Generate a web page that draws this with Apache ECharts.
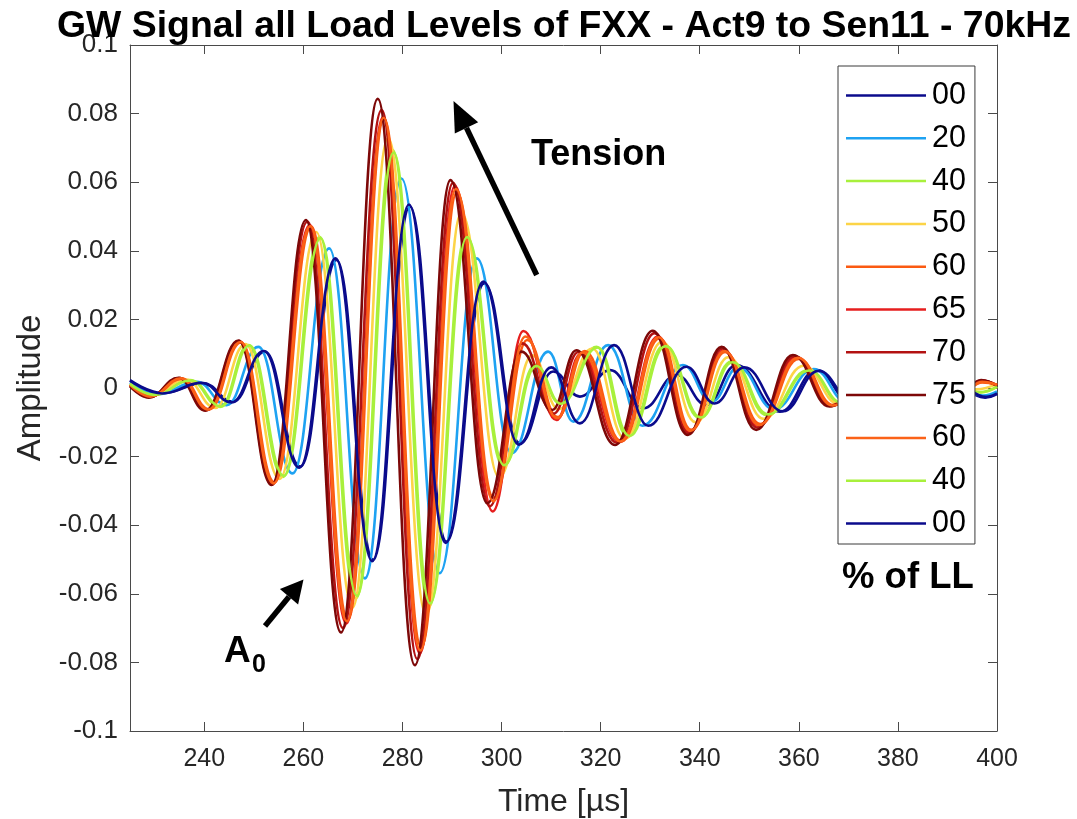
<!DOCTYPE html>
<html>
<head>
<meta charset="utf-8">
<title>GW Signal all Load Levels</title>
<script src="https://cdn.jsdelivr.net/npm/echarts@6/dist/echarts.min.js"></script>
<style>
  html, body { margin: 0; padding: 0; background: #fff; }
  #chart { width: 1077px; height: 819px; }
</style>
</head>
<body>
<div id="chart"></div>
<script>
// Axis ticks
const xTicks = [240, 260, 280, 300, 320, 340, 360, 380, 400];
const yTicks = [-0.1, -0.08, -0.06, -0.04, -0.02, 0, 0.02, 0.04, 0.06, 0.08, 0.1];

// Load levels (% of LL), loading then unloading
const loadLevels = ['00', '20', '40', '50', '60', '65', '70', '75', '60', '40', '00'];
const levelColors = ['#0b0b8c', '#1ea2f2', '#a8f03c', '#fcd447', '#fb5a12', '#e61e1e',
                     '#b31212', '#7d0808', '#fb6218', '#a8f03c', '#0b0b8c'];

// Signals: [time in µs, amplitude] at the turning points of each waveform
const ll00a = [[225,0.0023],[231.7,-0.0015],[239.8,0.0014],[245.8,-0.0040],[252.2,0.0106],[259.4,-0.0229],
  [266.7,0.0373],[274.1,-0.0501],[281.5,0.0529],[288.9,-0.0448],[296.5,0.0305],[303.7,-0.0161],
  [310.4,0.0048],[315.8,-0.0025],[321.9,0.0052],[328.6,-0.0059],[335.3,0.0038],[341.4,-0.0050],
  [347.4,0.0067],[356.2,-0.0069],[363.6,0.0052],[370.4,-0.0040],[377.5,0.0030],[384.6,-0.0025],
  [391.2,0.0015],[397.6,-0.0028],[400,-0.0018]];
const ll20 = [[225,0.0016],[230.5,-0.0018],[238.5,0.0018],[244.5,-0.0050],[250.9,0.0120],[257.8,-0.0249],
  [265.2,0.0407],[272.4,-0.0555],[279.8,0.0611],[287.5,-0.0540],[295.0,0.0378],[302.0,-0.0190],
  [309.4,0.0106],[314.5,-0.0098],[321.5,0.0125],[328.4,-0.0110],[336.6,0.0067],[342.4,-0.0040],
  [347.8,0.0060],[355.0,-0.0062],[363.0,0.0055],[369.8,-0.0042],[376.9,0.0032],[384.0,-0.0026],
  [390.6,0.0016],[397.2,-0.0022],[400,-0.0010]];
const ll40a = [[225,0.0011],[229.8,-0.0020],[237.1,0.0023],[243.2,-0.0055],[248.9,0.0125],[255.9,-0.0259],
  [263.3,0.0441],[270.6,-0.0613],[278.0,0.0694],[285.4,-0.0636],[292.8,0.0446],[300.3,-0.0229],
  [306.8,0.0068],[311.8,-0.0045],[319.2,0.0120],[325.5,-0.0142],[332.9,0.0125],[340.0,-0.0088],
  [346.4,0.0077],[353.5,-0.0079],[361.9,0.0052],[368.6,-0.0045],[375.8,0.0034],[383.0,-0.0028],
  [389.8,0.0018],[396.6,-0.0012],[400,0.0004]];
const ll50 = [[225,0.0012],[229.5,-0.0022],[236.3,0.0025],[242.2,-0.0058],[248.3,0.0128],[255.2,-0.0265],
  [262.6,0.0455],[269.9,-0.0640],[277.1,0.0728],[284.8,-0.0660],[291.9,0.0510],[299.5,-0.0260],
  [306.2,0.0095],[311.5,-0.0062],[318.3,0.0115],[324.9,-0.0148],[332.4,0.0135],[339.2,-0.0100],
  [345.8,0.0090],[352.9,-0.0090],[361.0,0.0065],[368.0,-0.0046],[375.2,0.0035],[382.5,-0.0029],
  [389.4,0.0019],[395.8,-0.0004],[400,0.0012]];
const ll60a = [[225,0.0010],[229.2,-0.0024],[235.5,0.0027],[241.0,-0.0062],[247.4,0.0133],[254.2,-0.0275],
  [261.6,0.0470],[269.0,-0.0675],[276.3,0.0785],[283.8,-0.0755],[291.0,0.0570],[298.4,-0.0320],
  [305.2,0.0140],[311.3,-0.0085],[316.8,0.0108],[324.2,-0.0155],[331.9,0.0145],[338.3,-0.0122],
  [345.1,0.0105],[352.2,-0.0105],[360.0,0.0085],[367.0,-0.0050],[374.2,0.0036],[381.6,-0.0030],
  [388.6,0.0020],[393.2,-0.0010],[397.0,0.0016],[400,0.0009]];
const ll65 = [[225,0.0009],[229.0,-0.0025],[235.1,0.0028],[240.5,-0.0064],[247.2,0.0135],[253.8,-0.0280],
  [261.3,0.0475],[268.7,-0.0686],[276.1,0.0790],[283.5,-0.0773],[290.6,0.0589],[298.2,-0.0360],
  [304.4,0.0166],[311.1,-0.0093],[316.0,0.0100],[323.9,-0.0157],[331.6,0.0150],[337.9,-0.0128],
  [344.9,0.0110],[351.9,-0.0110],[359.5,0.0090],[366.6,-0.0052],[373.8,0.0037],[381.2,-0.0030],
  [388.3,0.0020],[393.0,-0.0012],[397.0,0.0021],[400,0.0008]];
const ll70 = [[225,0.0007],[228.9,-0.0027],[235.0,0.0029],[240.3,-0.0065],[247.0,0.0137],[253.7,-0.0282],
  [260.8,0.0485],[268.0,-0.0700],[275.8,0.0810],[283.0,-0.0790],[290.2,0.0598],[297.6,-0.0345],
  [304.2,0.0130],[310.5,-0.0075],[315.5,0.0105],[323.4,-0.0160],[330.9,0.0160],[337.8,-0.0132],
  [344.6,0.0115],[351.6,-0.0115],[359.1,0.0093],[366.3,-0.0052],[373.6,0.0038],[381.0,-0.0030],
  [388.2,0.0020],[392.8,-0.0012],[396.9,0.0022],[400,0.0007]];
const ll75 = [[225,0.0005],[228.8,-0.0028],[234.8,0.0030],[240.2,-0.0066],[246.9,0.0138],[253.6,-0.0283],
  [260.5,0.0490],[267.6,-0.0713],[275.0,0.0843],[282.5,-0.0808],[289.7,0.0606],[297.1,-0.0336],
  [304.0,0.0106],[310.2,-0.0064],[315.1,0.0110],[322.9,-0.0166],[330.5,0.0167],[337.6,-0.0137],
  [344.4,0.0120],[351.4,-0.0122],[358.8,0.0096],[366.2,-0.0054],[373.5,0.0038],[380.9,-0.0030],
  [388.0,0.0020],[392.6,-0.0013],[396.8,0.0023],[400,0.0006]];
const ll60b = [[225,0.0009],[229.1,-0.0025],[235.3,0.0028],[240.8,-0.0063],[247.3,0.0134],[254.0,-0.0278],
  [261.4,0.0472],[268.8,-0.0680],[276.2,0.0788],[283.6,-0.0765],[290.8,0.0580],[298.3,-0.0330],
  [304.8,0.0150],[311.2,-0.0088],[316.4,0.0104],[324.0,-0.0156],[331.7,0.0148],[338.1,-0.0125],
  [345.0,0.0108],[352.0,-0.0108],[359.8,0.0088],[366.8,-0.0051],[374.0,0.0036],[381.4,-0.0030],
  [388.4,0.0020],[393.1,-0.0011],[397.0,0.0018],[400,0.0009]];
const ll40b = [[225,0.0012],[229.9,-0.0020],[237.3,0.0022],[243.4,-0.0054],[249.1,0.0124],[256.1,-0.0256],
  [263.5,0.0437],[270.8,-0.0606],[278.2,0.0686],[285.6,-0.0628],[293.0,0.0440],[300.5,-0.0225],
  [307.0,0.0064],[312.0,-0.0046],[319.4,0.0118],[325.8,-0.0140],[333.1,0.0122],[340.2,-0.0086],
  [346.6,0.0075],[353.8,-0.0077],[362.1,0.0051],[368.8,-0.0044],[376.0,0.0033],[383.2,-0.0027],
  [390.0,0.0017],[396.8,-0.0013],[400,0.0003]];
const ll00b = [[225,0.0021],[231.5,-0.0016],[239.5,0.0015],[245.5,-0.0042],[252.0,0.0108],[259.2,-0.0232],
  [266.5,0.0378],[273.9,-0.0505],[281.3,0.0535],[288.7,-0.0452],[296.3,0.0310],[303.5,-0.0165],
  [310.0,0.0060],[315.8,-0.0103],[322.7,0.0125],[329.6,-0.0110],[337.3,0.0062],[343.0,-0.0045],
  [349.0,0.0060],[356.8,-0.0068],[364.0,0.0050],[370.8,-0.0038],[377.8,0.0028],[384.9,-0.0024],
  [391.5,0.0014],[397.8,-0.0026],[400,-0.0016]];

const signals = [ll00a, ll20, ll40a, ll50, ll60a, ll65, ll70, ll75, ll60b, ll40b, ll00b];

const FONT = "'Liberation Sans', Arial, Helvetica, sans-serif";
const AXIS_COLOR = '#4a4a4a';
const TEXT_COLOR = '#262626';

const series = signals.map((data, i) => ({
  name: 'LL' + i,
  type: 'line',
  data: data,
  showSymbol: false,
  symbol: 'none',
  smooth: 0.44,
  smoothMonotone: 'x',
  lineStyle: { width: 2.6, color: levelColors[i] },
  itemStyle: { color: levelColors[i] },
  emphasis: { disabled: true },
  animation: false,
  z: 2
}));

function frameAxis(extra) {
  return Object.assign({
    type: 'value',
    axisLine: { show: true, onZero: false, lineStyle: { color: AXIS_COLOR, width: 1 } },
    splitLine: { show: false }
  }, extra);
}

const option = {
  animation: false,
  backgroundColor: '#ffffff',
  title: {
    text: 'GW Signal all Load Levels of FXX - Act9 to Sen11 - 70kHz',
    left: 57,
    top: 8,
    padding: 0,
    textStyle: { fontFamily: FONT, fontSize: 37.4, fontWeight: 'bold', color: '#000' }
  },
  grid: { left: 130, top: 45, right: 80, bottom: 88, outerBoundsMode: 'none', containLabel: false },
  xAxis: [
    frameAxis({
      position: 'bottom', min: 225, max: 400,
      name: 'Time [µs]', nameLocation: 'middle', nameGap: 55,
      nameTextStyle: { fontFamily: FONT, fontSize: 32, color: TEXT_COLOR },
      axisTick: { show: true, inside: true, length: 9, customValues: xTicks,
                  lineStyle: { color: AXIS_COLOR } },
      axisLabel: { show: true, margin: 16, customValues: xTicks,
                   fontFamily: FONT, fontSize: 25, color: TEXT_COLOR }
    }),
    frameAxis({
      position: 'top', min: 225, max: 400,
      axisTick: { show: true, inside: true, length: 9, customValues: xTicks,
                  lineStyle: { color: AXIS_COLOR } },
      axisLabel: { show: false }
    })
  ],
  yAxis: [
    frameAxis({
      position: 'left', min: -0.1, max: 0.1, interval: 0.02,
      name: 'Amplitude', nameLocation: 'middle', nameGap: 82, nameRotate: 90,
      nameTextStyle: { fontFamily: FONT, fontSize: 33, color: TEXT_COLOR },
      axisTick: { show: true, inside: true, length: 9, customValues: yTicks,
                  lineStyle: { color: AXIS_COLOR } },
      axisLabel: { show: true, margin: 12, customValues: yTicks,
                   fontFamily: FONT, fontSize: 26, color: TEXT_COLOR }
    }),
    frameAxis({
      position: 'right', min: -0.1, max: 0.1, interval: 0.02,
      axisTick: { show: true, inside: true, length: 9, customValues: yTicks,
                  lineStyle: { color: AXIS_COLOR } },
      axisLabel: { show: false }
    })
  ],
  legend: {
    orient: 'vertical',
    left: 838,
    top: 66,
    padding: [14, 9, 5, 8],
    itemGap: 11.8,
    itemWidth: 80,
    itemHeight: 2.5,
    icon: 'rect',
    selectedMode: false,
    backgroundColor: '#ffffff',
    borderColor: '#3a3a3a',
    borderWidth: 1,
    borderRadius: 0,
    data: series.map(s => s.name),
    formatter: name => loadLevels[Number(name.slice(2))],
    textStyle: { fontFamily: FONT, fontSize: 30.5, lineHeight: 30, color: '#000', padding: [0, 0, 0, 1] },
    z: 10
  },
  graphic: [
    // Tension arrow
    { type: 'line', z: 20, shape: { x1: 536.7, y1: 275, x2: 466.5, y2: 127.9 },
      style: { stroke: '#000', lineWidth: 5.5 } },
    { type: 'polygon', z: 20, shape: { points: [[453.5, 101], [478.2, 122.3], [454.8, 133.5]] },
      style: { fill: '#000' } },
    { type: 'text', z: 20, x: 531, y: 155,
      style: { text: 'Tension', font: 'bold 36px ' + FONT, fill: '#000', verticalAlign: 'middle' } },
    // A0 arrow
    { type: 'line', z: 20, shape: { x1: 265, y1: 626, x2: 289, y2: 596.8 },
      style: { stroke: '#000', lineWidth: 5.5 } },
    { type: 'polygon', z: 20, shape: { points: [[303.5, 579.5], [298.1, 604.6], [279.9, 589]] },
      style: { fill: '#000' } },
    { type: 'text', z: 20, x: 224, y: 652,
      style: { text: 'A', font: 'bold 37px ' + FONT, fill: '#000', verticalAlign: 'middle' } },
    { type: 'text', z: 20, x: 252, y: 665,
      style: { text: '0', font: 'bold 25px ' + FONT, fill: '#000', verticalAlign: 'middle' } },
    // Legend caption
    { type: 'text', z: 20, x: 842, y: 578,
      style: { text: '% of LL', font: 'bold 36.5px ' + FONT, fill: '#000', verticalAlign: 'middle' } }
  ],
  series: series
};

const chart = echarts.init(document.getElementById('chart'), null, { renderer: 'canvas' });
chart.setOption(option);
</script>
</body>
</html>
